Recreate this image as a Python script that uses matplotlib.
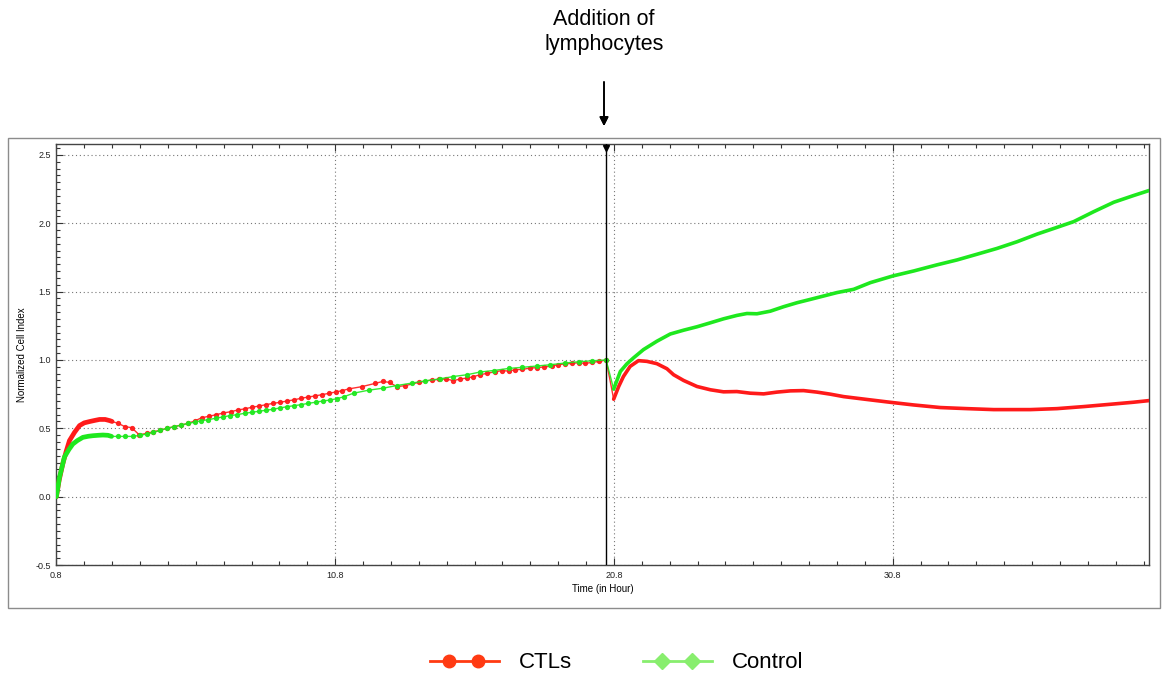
import numpy as np
import matplotlib
matplotlib.use("Agg")
import matplotlib.pyplot as plt
from matplotlib.lines import Line2D
from matplotlib.patches import Rectangle
from matplotlib.legend_handler import HandlerLine2D
from matplotlib.ticker import FixedLocator, MultipleLocator

plt.rcParams['font.family'] = ['Liberation Sans', 'DejaVu Sans']

# normalized cell index (xCELLigence), time in hours
ctl_t = [0.8, 0.9, 1.03, 1.15, 1.27, 1.45, 1.63, 1.8, 2.0, 2.18,
         2.35, 2.55, 2.72, 2.8, 3.02, 3.26, 3.5, 3.77, 4.04, 4.28,
         4.52, 4.76, 5.03, 5.28, 5.52, 5.76, 6.02, 6.28, 6.53, 6.79,
         7.06, 7.31, 7.57, 7.81, 8.07, 8.32, 8.58, 8.82, 9.08, 9.34,
         9.58, 9.84, 10.08, 10.32, 10.58, 10.82, 11.04, 11.28, 11.76, 12.24,
         12.51, 12.75, 13.01, 13.31, 13.79, 14.27, 14.53, 14.78, 15.04, 15.29,
         15.53, 15.76, 16.0, 16.24, 16.54, 16.78, 17.02, 17.26, 17.5, 17.8,
         18.04, 18.3, 18.58, 18.81, 19.05, 19.29, 19.53, 19.77, 20.01, 20.28,
         20.52, 20.79, 20.97, 21.14, 21.38, 21.68, 21.98, 22.34, 22.7, 22.94,
         23.3, 23.78, 24.26, 24.73, 25.21, 25.69, 26.17, 26.65, 27.13, 27.6,
         28.08, 28.56, 29.04, 29.52, 30.0, 30.69, 31.55, 32.51, 33.47, 34.42,
         35.74, 36.69, 37.65, 38.61, 39.44, 40.0]
ctl_v = [0.0, 0.12, 0.24, 0.33, 0.41, 0.47, 0.52, 0.54, 0.55, 0.558,
         0.565, 0.565, 0.556, 0.55, 0.536, 0.512, 0.505, 0.453, 0.463, 0.475,
         0.485, 0.50, 0.512, 0.524, 0.536, 0.554, 0.578, 0.588, 0.6, 0.612,
         0.622, 0.634, 0.643, 0.654, 0.663, 0.673, 0.683, 0.69, 0.7, 0.709,
         0.72, 0.729, 0.737, 0.746, 0.756, 0.766, 0.775, 0.788, 0.805, 0.829,
         0.843, 0.836, 0.805, 0.812, 0.836, 0.854, 0.858, 0.861, 0.849, 0.861,
         0.868, 0.878, 0.892, 0.902, 0.914, 0.922, 0.919, 0.929, 0.931, 0.941,
         0.944, 0.949, 0.956, 0.966, 0.971, 0.975, 0.98, 0.975, 0.982, 0.99,
         1.0, 0.713, 0.806, 0.879, 0.953, 0.995, 0.99, 0.973, 0.936, 0.892,
         0.85, 0.806, 0.782, 0.767, 0.769, 0.757, 0.752, 0.765, 0.774, 0.776,
         0.765, 0.75, 0.732, 0.72, 0.708, 0.691, 0.671, 0.652, 0.644, 0.637,
         0.637, 0.644, 0.659, 0.676, 0.691, 0.703]

con_t = [0.8, 0.91, 1.09, 1.25, 1.39, 1.55, 1.75, 1.95, 2.11, 2.3,
         2.47, 2.65, 2.78, 3.02, 3.26, 3.54, 3.8, 4.04, 4.28, 4.52,
         4.76, 5.03, 5.28, 5.52, 5.76, 5.99, 6.25, 6.52, 6.77, 7.03,
         7.29, 7.55, 7.81, 8.07, 8.31, 8.56, 8.82, 9.07, 9.33, 9.58,
         9.84, 10.11, 10.36, 10.62, 10.86, 11.1, 11.46, 12.0, 12.53, 13.01,
         13.55, 14.03, 14.57, 15.04, 15.53, 16.0, 16.48, 17.02, 17.5, 18.04,
         18.51, 19.05, 19.53, 20.01, 20.52, 20.79, 21.03, 21.27, 21.5, 21.86,
         22.34, 22.82, 23.3, 23.78, 24.26, 24.73, 25.21, 25.57, 25.93, 26.41,
         26.89, 27.37, 27.84, 28.32, 28.8, 29.4, 30.0, 30.81, 31.55, 32.39,
         33.11, 33.83, 34.54, 35.26, 35.98, 36.69, 37.29, 38.01, 38.73, 39.44,
         40.0]
con_v = [0.0, 0.14, 0.29, 0.345, 0.385, 0.41, 0.434, 0.442, 0.446, 0.449,
         0.451, 0.449, 0.441, 0.441, 0.441, 0.441, 0.449, 0.458, 0.47, 0.485,
         0.50, 0.512, 0.524, 0.536, 0.545, 0.556, 0.563, 0.574, 0.583, 0.593,
         0.6, 0.61, 0.617, 0.625, 0.632, 0.639, 0.649, 0.658, 0.666, 0.673,
         0.683, 0.691, 0.7, 0.707, 0.717, 0.73, 0.757, 0.779, 0.794, 0.813,
         0.831, 0.847, 0.862, 0.879, 0.892, 0.912, 0.923, 0.938, 0.946, 0.956,
         0.965, 0.978, 0.987, 0.994, 1.0, 0.787, 0.916, 0.973, 1.015, 1.076,
         1.137, 1.19, 1.218, 1.243, 1.272, 1.301, 1.326, 1.34, 1.338, 1.357,
         1.39, 1.419, 1.443, 1.468, 1.493, 1.517, 1.566, 1.615, 1.651, 1.696,
         1.732, 1.774, 1.816, 1.865, 1.921, 1.97, 2.012, 2.085, 2.154, 2.203,
         2.24]

addition_time = 20.52
x_ticks = [0.8, 10.8, 20.8, 30.8]
y_ticks = [-0.5, 0.0, 0.5, 1.0, 1.5, 2.0, 2.5]

red = '#ff1a1a'
green = '#1ee81e'


class TwoMarkerHandler(HandlerLine2D):
    # full-length legend line with two markers set inside it
    def create_artists(self, legend, orig_handle, xdescent, ydescent,
                       width, height, fontsize, trans):
        x0 = -xdescent
        xs = [x0, x0 + 0.27 * width, x0 + 0.70 * width, x0 + width]
        y = (height - ydescent) / 2
        line = Line2D(xs, [y] * 4, markevery=[1, 2])
        self.update_prop(line, orig_handle, legend)
        line.set_transform(trans)
        return [line]


fig = plt.figure(figsize=(11.62, 6.77), dpi=100)
ax = fig.add_axes([0.0485, 0.1654, 0.9405, 0.6219])

# grey panel frame around the plot
fig.add_artist(Rectangle((0.0065, 0.102), 0.992, 0.694, transform=fig.transFigure,
                         fill=False, edgecolor='#8c8c8c', linewidth=1.0))

for t, v, c in [(ctl_t, ctl_v, red), (con_t, con_v, green)]:
    t = np.array(t)
    v = np.array(v)
    early = t <= 2.8
    late = t >= 20.79
    sparse = ~(early | late)
    ax.plot(t, v, color=c, lw=1.0, marker='o', ms=2.8, mec=c, mfc=c,
            markevery=list(sparse), alpha=0.9, zorder=3)
    # densely sampled stretches look like a thick band
    ax.plot(t[early], v[early], color=c, lw=3.4, zorder=3, solid_capstyle='round')
    ax.plot(t[late], v[late], color=c, lw=2.6, zorder=3, solid_capstyle='round')

ax.axvline(addition_time, color='black', lw=1.0, zorder=4)
ax.plot([addition_time], [2.548], marker='v', color='black', ms=5, clip_on=False, zorder=5)

ax.set_xlim(0.8, 40.0)
ax.set_ylim(-0.5, 2.58)
ax.xaxis.set_major_locator(FixedLocator(x_ticks))
ax.xaxis.set_minor_locator(FixedLocator(np.arange(0.8, 40.01, 1.0)))
ax.yaxis.set_major_locator(FixedLocator(y_ticks))
ax.yaxis.set_minor_locator(MultipleLocator(0.05))
ax.set_xticklabels([f'{x:.1f}' for x in x_ticks])
ax.set_yticklabels([f'{y:.1f}' for y in y_ticks])
ax.tick_params(which='both', direction='in', top=True, right=False, labelsize=6.5,
               color='#333333', labelcolor='#222222', width=0.8)
ax.tick_params(which='major', length=5, pad=4)
ax.tick_params(which='minor', length=3)
ax.grid(True, which='major', linestyle=(0, (1, 2.5)), color='#777777', lw=0.8)
for s in ax.spines.values():
    s.set_color('#444444')
    s.set_linewidth(1.0)

ax.set_xlabel('Time (in Hour)', fontsize=7, labelpad=3)
ax.set_ylabel('Normalized Cell Index', fontsize=7, labelpad=6)

fig.text(604 / 1162, 1 - 32 / 677, 'Addition of\nlymphocytes', ha='center', va='center',
         fontsize=15.5, linespacing=1.3)
fig.add_artist(plt.annotate('', xy=(604 / 1162, 1 - 126 / 677), xycoords='figure fraction',
                            xytext=(604 / 1162, 1 - 82 / 677), textcoords='figure fraction',
                            arrowprops=dict(arrowstyle='-|>', color='black', lw=1.2,
                                            mutation_scale=13, shrinkA=0, shrinkB=0)))

handles = [Line2D([], [], color='#ff3a12', lw=2, marker='o', ms=9),
           Line2D([], [], color='#88ee6e', lw=2, marker='D', ms=8)]
fig.legend(handles, ['CTLs', 'Control'], loc='center', bbox_to_anchor=(617 / 1162, 1 - 663 / 677),
           ncol=2, frameon=False, fontsize=16, handlelength=3.1, handletextpad=0.9,
           columnspacing=3.2, handler_map={Line2D: TwoMarkerHandler()})

fig.savefig('out.png', dpi=100)
